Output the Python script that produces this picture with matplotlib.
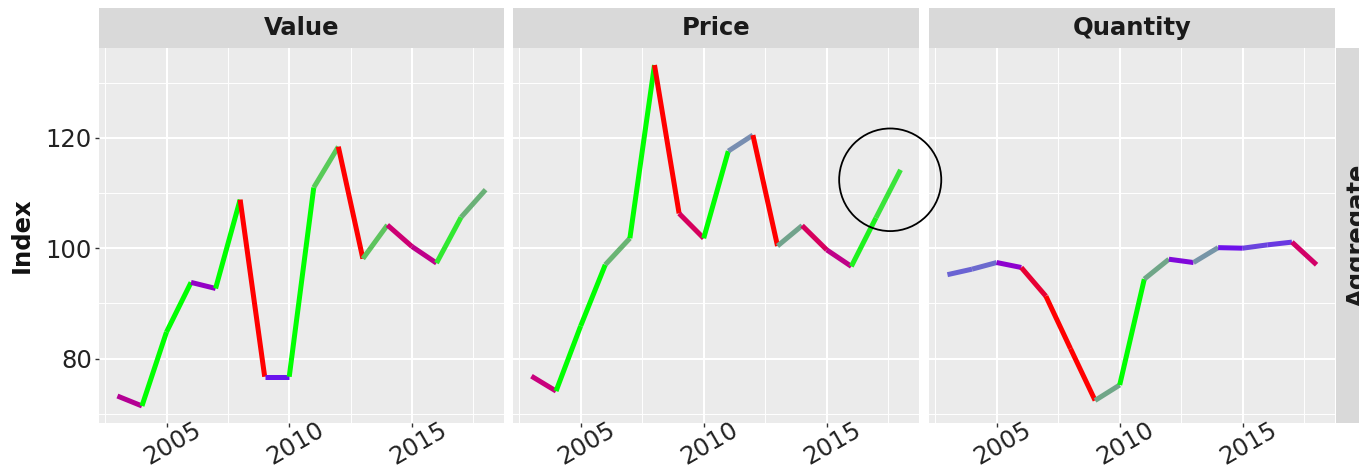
import matplotlib
matplotlib.use("Agg")
import matplotlib.pyplot as plt
import numpy as np
from matplotlib.collections import LineCollection
from matplotlib.colors import LinearSegmentedColormap, Normalize
from matplotlib.patches import Ellipse
from matplotlib.transforms import ScaledTranslation

plt.rcParams["font.family"] = ["DejaVu Sans"]

years = list(range(2003, 2019))
value_idx = [73.2, 71.4, 84.8, 93.8, 92.7, 108.8, 76.7, 76.7,
             111.0, 118.4, 98.1, 104.2, 100.3, 97.3, 105.6, 110.6]
price_idx = [76.8, 74.1, 85.9, 97.0, 101.8, 133.2, 106.3, 101.8,
             117.6, 120.5, 100.4, 104.1, 99.7, 96.7, 105.5, 114.2]
quantity_idx = [95.2, 96.2, 97.4, 96.5, 91.3, 81.8, 72.4, 75.2,
                94.4, 98.0, 97.4, 100.1, 100.0, 100.6, 101.1, 97.0]

panels = ["Value", "Price", "Quantity"]
series = [value_idx, price_idx, quantity_idx]
row_label = "Aggregate"

# colour of each segment follows the year-on-year % change
growth_stops = [-8, -5, -3.5, -2, -1, 0, 1, 2.5, 4, 6, 8, 10]
growth_cols = ["#ff0000", "#e4003c", "#c8007f", "#aa009e", "#9000cc", "#6a14ee",
               "#6a62d4", "#7890b0", "#6fa884", "#62c062", "#45e045", "#00ff00"]
lo, hi = growth_stops[0], growth_stops[-1]
cmap = LinearSegmentedColormap.from_list(
    "growth", [((s - lo) / (hi - lo), c) for s, c in zip(growth_stops, growth_cols)])
norm = Normalize(lo, hi, clip=True)

W, H = 1359, 469
fig = plt.figure(figsize=(W / 100, H / 100), dpi=100)
fig.patch.set_facecolor("white")


def box(x0, y0, x1, y1):
    # pixel box (top-left origin) -> figure fraction
    return [x0 / W, 1 - y1 / H, (x1 - x0) / W, (y1 - y0) / H]


panel_x = [(99, 504), (513, 919), (929, 1335)]
top, bottom = 48, 423
strip_top = 8

all_vals = np.concatenate([np.array(s) for s in series])
pad = 0.05 * (all_vals.max() - all_vals.min())
ylim = (all_vals.min() - pad, all_vals.max() + pad)
xlim = (years[0] - 0.05 * (years[-1] - years[0]), years[-1] + 0.05 * (years[-1] - years[0]))

axes = []
for i, (name, vals) in enumerate(zip(panels, series)):
    x0, x1 = panel_x[i]
    ax = fig.add_axes(box(x0, top, x1, bottom))
    ax.set_facecolor("#ebebeb")
    for sp in ax.spines.values():
        sp.set_visible(False)
    ax.set_xlim(*xlim)
    ax.set_ylim(*ylim)
    ax.set_xticks([2005, 2010, 2015])
    ax.set_xticks([2002.5, 2007.5, 2012.5, 2017.5], minor=True)
    ax.set_yticks([80, 100, 120])
    ax.set_yticks([70, 90, 110, 130], minor=True)
    ax.grid(which="major", color="white", linewidth=1.5)
    ax.grid(which="minor", color="white", linewidth=0.7)
    ax.set_axisbelow(True)
    ax.tick_params(which="minor", length=0)
    ax.tick_params(axis="x", which="major", length=3, width=1, color="#333333",
                   labelsize=17.5, labelcolor="#222222", pad=-7)
    if i == 0:
        ax.tick_params(axis="y", which="major", length=3, width=1, color="#333333",
                       labelsize=17.5, labelcolor="#222222", pad=2)
    else:
        ax.tick_params(axis="y", which="major", length=0, labelleft=False)
    shift = ScaledTranslation(6 / 100, 0, fig.dpi_scale_trans)
    for lab in ax.get_xticklabels():
        lab.set_rotation(30)
        lab.set_ha("center")
        lab.set_va("top")
        lab.set_transform(lab.get_transform() + shift)

    pts = np.column_stack([years, vals])
    segs = np.stack([pts[:-1], pts[1:]], axis=1)
    v = np.array(vals)
    growth = (v[1:] / v[:-1] - 1) * 100
    lc = LineCollection(segs, colors=cmap(norm(growth)), linewidths=3.6,
                        capstyle="butt", joinstyle="round")
    ax.add_collection(lc)

    # facet strip on top
    sax = fig.add_axes(box(x0, strip_top, x1, top))
    sax.set_facecolor("#d9d9d9")
    sax.set_xticks([])
    sax.set_yticks([])
    for sp in sax.spines.values():
        sp.set_visible(False)
    sax.text(0.5, 0.5, name, ha="center", va="center", fontsize=17.5,
             fontweight="bold", color="#1a1a1a", transform=sax.transAxes)
    axes.append(ax)

# row strip on the right, running off the edge
rax = fig.add_axes(box(1336, top, 1380, bottom))
rax.set_facecolor("#d9d9d9")
rax.set_xticks([])
rax.set_yticks([])
for sp in rax.spines.values():
    sp.set_visible(False)
rax.text(0.5, 0.5, row_label, ha="center", va="center", rotation=90,
         fontsize=17.5, fontweight="bold", color="#1a1a1a", transform=rax.transAxes)

fig.text(22 / W, 1 - 235 / H, "Index", rotation=90, ha="center", va="center",
         fontsize=17.5, fontweight="bold", color="#111111")

# highlight the last price move; price panel drawn last so the ring sits on top
axes[1].set_zorder(5)
ring = Ellipse((2017.58, 112.4), width=4.15, height=18.6, fill=False,
               edgecolor="black", linewidth=1.3, clip_on=False, zorder=10)
axes[1].add_patch(ring)

fig.savefig("out.png", dpi=100, facecolor="white")
